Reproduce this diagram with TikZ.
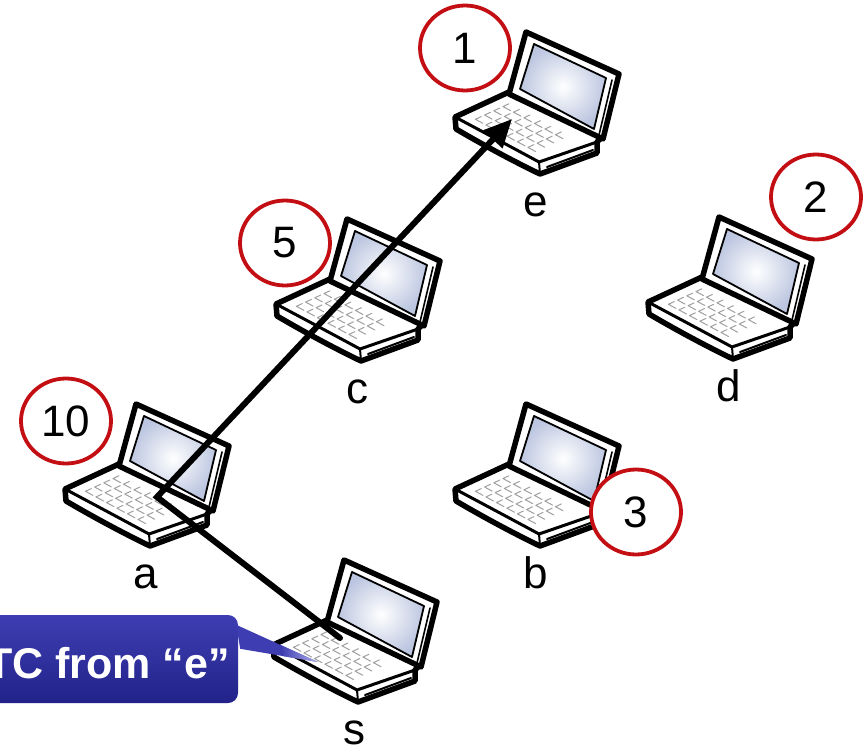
\documentclass[tikz,border=0pt]{standalone}
\usepackage{fontspec}
\setmainfont{Liberation Sans}
\usetikzlibrary{arrows.meta,calc,shapes.geometric}
\definecolor{ringred}{RGB}{195,15,20}
\definecolor{screenblue}{RGB}{188,198,224}
\definecolor{keygray}{RGB}{160,160,160}
\definecolor{boxtop}{RGB}{62,62,178}
\definecolor{boxbottom}{RGB}{34,34,138}
\definecolor{tipblue}{RGB}{175,175,235}
\tikzset{
  lbl/.style={font=\fontsize{44}{48}\selectfont,inner sep=0pt},
  ring/.style={ellipse,draw=ringred,fill=white,line width=3.8pt,minimum width=90pt,minimum height=85pt,inner sep=0pt,font=\fontsize{44}{48}\selectfont},
  conn/.style={line width=6pt,line join=miter,-{Triangle[length=28pt,width=25pt]}},
  laptop/.pic={
    \coordinate (-o) at (0,0);
    % base
    \filldraw[fill=white,line width=5.5pt] (54,60) -- (0,85) -- (1,97) .. controls (30,114) and (60,130) .. (85,142) -- (142,121) -- (142,110) -- (148,104) -- cycle;
    \draw[line width=3pt] (0,85) .. controls (30,101) and (60,117) .. (84,130) -- (142,110);
    \draw[line width=2pt] (84,130) -- (85,142) (92,135) -- (138,118);
    % keys
    \begin{scope}[shift={(0,85)},x={(84pt,-45pt)},y={(54pt,25pt)}]
      \foreach \i in {0,...,5}
        \foreach \j in {0,...,3}
          \draw[keygray,line width=1pt] (0.14+\i*0.125,0.16+\j*0.17) ++(0.09,0) -- ++(-0.09,0) -- ++(0,0.11);
    \end{scope}
    % lid
    \filldraw[fill=white,line width=5.5pt] (54,62) -- (71,0) -- (164,42) -- (148,107) -- cycle;
    \shade[inner color=white,outer color=screenblue,draw=black,line width=1.8pt] (65,57) -- (79,12) -- (151,46) -- (139,97) -- cycle;
    \draw[line width=1.6pt] (157,48) -- (144,103);
    \node[lbl,anchor=base] (-lbl) at (81,184) {#1};
  }
}
\begin{document}
\begin{tikzpicture}[x=1pt,y=-1pt,line cap=round,line join=round]
\useasboundingbox (0,0) rectangle (864,749);
\pic (e) at (455,32) {laptop=e};
\pic (d) at (648,217) {laptop=d};
\pic (c) at (276,219) {laptop=c};
\pic (a) at (65,404) {laptop=a};
\pic (b) at (455,404) {laptop=b};
\pic (s) at (273,560) {laptop=s};
% numbers
\node[ring] (n1) at (465,48) {1};
\node[ring] (n2) at (816,197) {2};
\node[ring] (n3) at (636,512) {3};
\node[ring] (n5) at (285,243) {5};
\node[ring] (n10) at (66,421) {10};
% route
\coordinate (sEnd) at ([shift={(67,78)}]s-o);
\coordinate (aBend) at ([shift={(92,93)}]a-o);
\coordinate (eTip) at ([shift={(57,87)}]e-o);
\draw[conn] (sEnd) -- (aBend) -- (eTip);
% callout
\node[rounded corners=10pt,top color=boxtop,bottom color=boxbottom,minimum width=290pt,minimum height=88pt,inner sep=0pt] (tc) at (93,659) {};
\coordinate (tcTip) at (318,662);
\coordinate (tcUp) at ($(tc.north east)+(-2,10)$);
\coordinate (tcLow) at ($(tc.north east)+(2,34)$);
\fill[boxtop] (tcUp) -- (tcTip) -- (tcLow) -- cycle;
\shade[left color=boxtop,right color=tipblue] ($(tcUp)!0.55!(tcTip)$) -- (tcTip) -- ($(tcLow)!0.55!(tcTip)$) -- cycle;
\node[lbl,anchor=base east,text=white,font=\fontsize{43}{48}\selectfont\bfseries] (tct) at (230,678) {TC from “e”};
\end{tikzpicture}
\end{document}
